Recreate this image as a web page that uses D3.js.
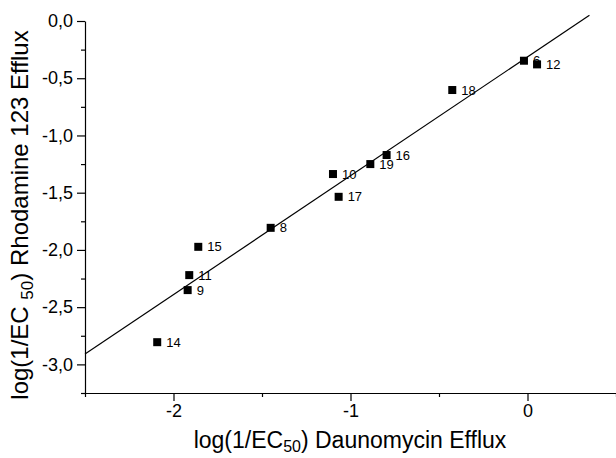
<!DOCTYPE html>
<html>
<head>
<meta charset="utf-8">
<script src="https://cdn.jsdelivr.net/npm/d3@7"></script>
<style>
	body { margin: 0; background: #fff; }
	.axis path, .axis line { stroke: #000; stroke-width: 1.2; }
	.axis text { font-family: 'Liberation Sans', Arial, sans-serif; font-size: 18px; fill: #000; }
	.minor path { display: none; }
</style>
</head>
<body>
<div class="scatter"></div>
<script>
// compound numbers and the two efflux values
var compoundIds = ['6', '12', '18', '16', '19', '10', '17', '8', '15', '11', '9', '14'];
var daunomycinValues = [-0.02, 0.054, -0.425, -0.796, -0.888, -1.099, -1.067, -1.451, -1.860, -1.911, -1.920, -2.092];
var rhodamineValues = [-0.347, -0.379, -0.603, -1.171, -1.250, -1.337, -1.536, -1.807, -1.973, -2.220, -2.351, -2.806];

// end points of the fitted line
var fitX = [-2.5, 0.35];
var fitY = [-2.91, 0.05];

var xTickValues = [-2, -1, 0];
var xMinorTickValues = [-2.5, -1.5, -0.5, 0.5];
var yTickValues = [0, -0.5, -1, -1.5, -2, -2.5, -3];
var yMinorTickValues = [-0.25, -0.75, -1.25, -1.75, -2.25, -2.75, -3.25];

var fontFamily = "'Liberation Sans', Arial, sans-serif";
var margin = {top: 21, left: 85, bottom: 65, right: 0};
var width = 616 - margin.left - margin.right;
var height = 458 - margin.top - margin.bottom;

var x = d3.scaleLinear().domain([-2.5, 0.5]).range([0, width]);
var y = d3.scaleLinear().domain([-3.25, 0]).range([height, 0]);

var svg = d3.select('.scatter').append('svg')
	.attr('width', 616)
	.attr('height', 458)
	.attr('font-family', fontFamily)
.append('g')
	.attr('transform', 'translate(' + margin.left + ',' + margin.top + ')');

// minor ticks first, then the labelled axes on top
svg.append('g')
	.attr('class', 'axis minor')
	.attr('transform', 'translate(0,' + height + ')')
	.call(d3.axisBottom(x).tickValues(xMinorTickValues).tickSize(4).tickFormat(''));
svg.append('g')
	.attr('class', 'axis minor')
	.call(d3.axisLeft(y).tickValues(yMinorTickValues).tickSize(4).tickFormat(''));

svg.append('g')
	.attr('class', 'axis')
	.attr('transform', 'translate(0,' + height + ')')
	.call(d3.axisBottom(x)
		.tickValues(xTickValues)
		.tickSize(8)
		.tickSizeOuter(0)
		.tickPadding(3)
		.tickFormat(function(d) {
			return d3.format('d')(d).replace('−', '-');
		}));
svg.append('g')
	.attr('class', 'axis')
	.call(d3.axisLeft(y)
		.tickValues(yTickValues)
		.tickSize(8)
		.tickSizeOuter(0)
		.tickPadding(4)
		.tickFormat(function(d) {
			return d3.format('.1f')(d).replace('−', '-').replace('.', ',');
		}));

// fitted line
svg.append('line')
	.attr('x1', x(fitX[0]))
	.attr('y1', y(fitY[0]))
	.attr('x2', x(fitX[1]))
	.attr('y2', y(fitY[1]))
	.attr('stroke', '#000')
	.attr('stroke-width', 1.2);

// squares and their compound numbers
var points = compoundIds.map(function(id, i) {
	return {id: id, dx: daunomycinValues[i], rh: rhodamineValues[i]};
});
svg.selectAll('.pt')
	.data(points)
	.enter().append('rect')
	.attr('class', 'pt')
	.attr('x', function(d) { return x(d.dx) - 4; })
	.attr('y', function(d) { return y(d.rh) - 4; })
	.attr('width', 8)
	.attr('height', 8)
	.attr('fill', '#000');
svg.selectAll('.pt-label')
	.data(points)
	.enter().append('text')
	.attr('class', 'pt-label')
	.attr('x', function(d) { return x(d.dx) + 9; })
	.attr('y', function(d) { return y(d.rh); })
	.attr('dy', '0.35em')
	.attr('font-size', '13px')
	.attr('fill', '#000')
	.text(function(d) { return d.id; });

// axis titles
var xTitle = svg.append('text')
	.attr('x', 350 - margin.left)
	.attr('y', 448 - margin.top)
	.attr('text-anchor', 'middle')
	.attr('font-size', '23px')
	.attr('fill', '#000');
xTitle.append('tspan').text('log(1/EC');
xTitle.append('tspan').attr('font-size', '16px').attr('dy', 4).text('50');
xTitle.append('tspan').attr('dy', -4).text(') Daunomycin Efflux');

var yTitle = svg.append('text')
	.attr('transform', 'translate(' + (28 - margin.left) + ',' + (215 - margin.top) + ') rotate(-90)')
	.attr('text-anchor', 'middle')
	.attr('font-size', '24px')
	.attr('fill', '#000');
yTitle.append('tspan').text('log(1/EC ');
yTitle.append('tspan').attr('font-size', '17px').attr('dy', 5).text('50');
yTitle.append('tspan').attr('dy', -5).text(') Rhodamine 123 Efflux');
</script>
</body>
</html>
